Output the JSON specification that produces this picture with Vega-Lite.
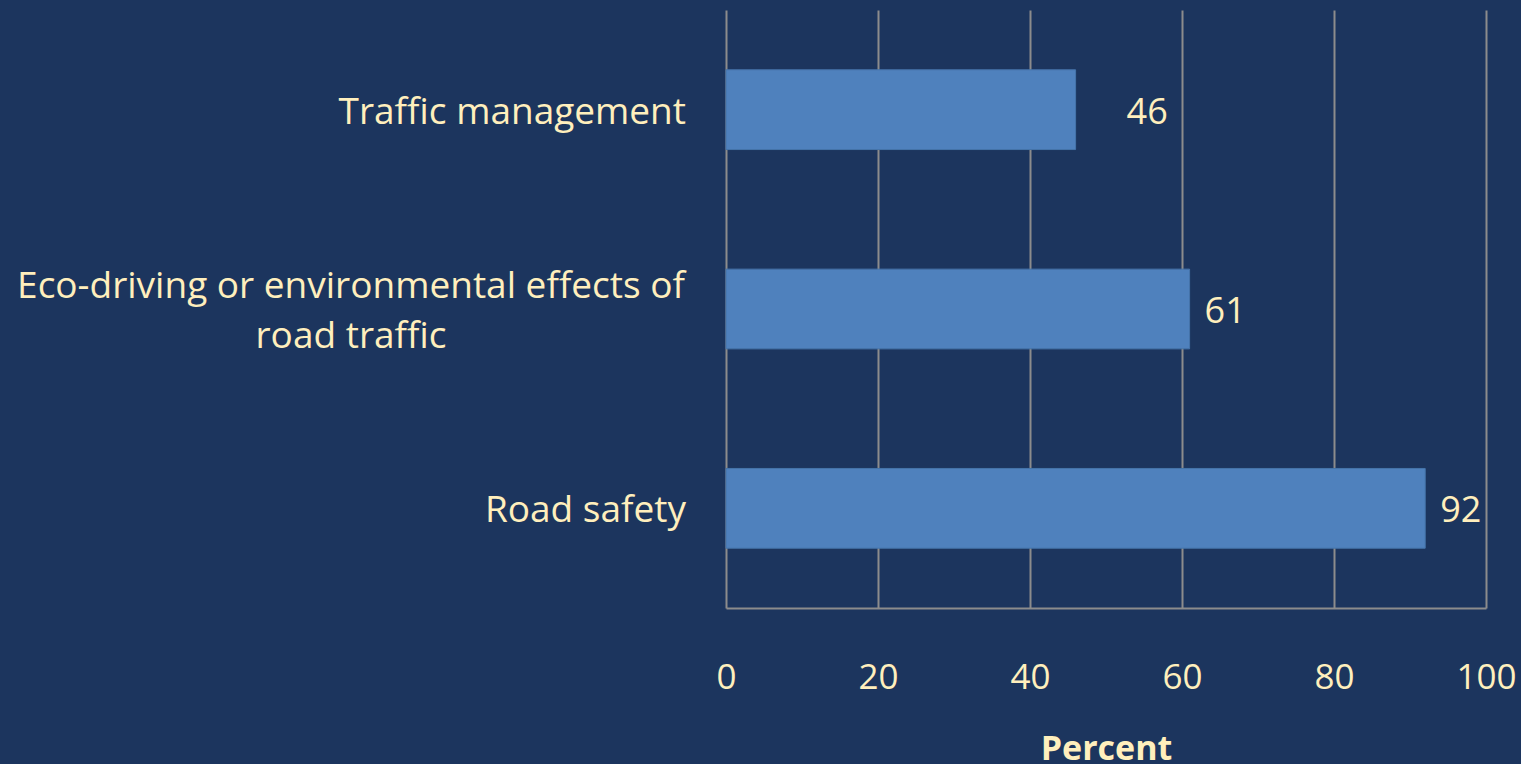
{
  "$schema": "https://vega.github.io/schema/vega-lite/v6.json",
  "width": 760,
  "height": 598,
  "autosize": {"type": "none"},
  "padding": {"left": 726, "top": 10, "right": 35, "bottom": 156},
  "background": "#1c355e",
  "config": {
    "view": {"stroke": null},
    "font": "Open Sans",
    "text": {"font": "Open Sans"}
  },
  "data": {
    "values": [
      {"category": "Traffic management", "percent": 46},
      {"category": "Eco-driving or environmental effects of road traffic", "percent": 61},
      {"category": "Road safety", "percent": 92}
    ]
  },
  "encoding": {
    "y": {
      "field": "category",
      "type": "nominal",
      "sort": null,
      "scale": {"paddingInner": 0.6, "paddingOuter": 0.3},
      "axis": null
    }
  },
  "layer": [
    {
      "mark": {"type": "bar", "color": "#4f81bd", "stroke": "#4674aa", "strokeWidth": 1},
      "encoding": {
        "x": {
          "field": "percent",
          "type": "quantitative",
          "scale": {"domain": [0, 100], "nice": false},
          "axis": {
            "values": [0, 20, 40, 60, 80, 100],
            "title": "Percent",
            "titleFont": "Open Sans",
            "titleFontSize": 34,
            "titleFontWeight": "bold",
            "titleColor": "#ffefbd",
            "titlePadding": 37,
            "labelFont": "Open Sans",
            "labelFontSize": 35,
            "labelColor": "#ffefbd",
            "labelPadding": 52,
            "labelBaseline": "top",
            "labelFlush": false,
            "ticks": false,
            "domainColor": "#8c8c8c",
            "domainWidth": 2,
            "grid": true,
            "gridColor": "#8c8c8c",
            "gridWidth": 2
          }
        }
      }
    },
    {
      "transform": [{"filter": "datum.percent !== 46"}],
      "mark": {"type": "text", "align": "left", "baseline": "middle", "dx": 15, "dy": 3, "fontSize": 36, "color": "#ffefbd"},
      "encoding": {
        "x": {"field": "percent", "type": "quantitative"},
        "text": {"field": "percent", "type": "quantitative"}
      }
    },
    {
      "transform": [{"filter": "datum.percent === 46"}],
      "mark": {"type": "text", "align": "left", "baseline": "middle", "dx": 51, "dy": 3, "fontSize": 36, "color": "#ffefbd"},
      "encoding": {
        "x": {"field": "percent", "type": "quantitative"},
        "text": {"field": "percent", "type": "quantitative"}
      }
    },
    {
      "transform": [{"filter": "datum.percent !== 61"}],
      "mark": {"type": "text", "align": "right", "baseline": "middle", "dx": -40, "dy": 3, "fontSize": 37, "color": "#ffefbd"},
      "encoding": {
        "x": {"datum": 0, "type": "quantitative"},
        "text": {"field": "category", "type": "nominal"}
      }
    },
    {
      "transform": [{"filter": "datum.percent === 61"}],
      "mark": {"type": "text", "align": "center", "baseline": "middle", "dx": -375, "dy": -22, "fontSize": 37, "lineHeight": 50, "color": "#ffefbd"},
      "encoding": {
        "x": {"datum": 0, "type": "quantitative"},
        "text": {"value": ["Eco-driving or environmental effects of", "road traffic"]}
      }
    }
  ]
}
